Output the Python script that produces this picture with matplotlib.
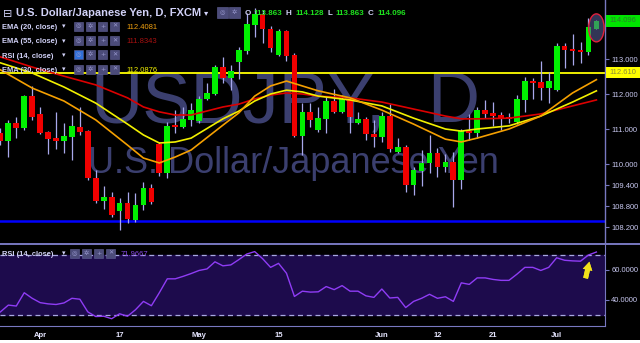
import matplotlib
matplotlib.use('Agg')
import matplotlib.pyplot as plt
from matplotlib.patches import Rectangle, Ellipse
from matplotlib.lines import Line2D

# ---------------- data ----------------
opens = [110.89, 110.66, 111.17, 111.03, 111.94, 111.43, 110.91, 110.74, 110.66, 110.77,
         111.06, 110.94, 109.60, 108.94, 109.06, 108.66, 108.89, 108.40, 108.83, 109.31,
         110.57, 109.74, 111.09, 111.06, 111.26, 111.23, 111.86, 112.00, 112.77, 112.46,
         112.91, 113.23, 113.97, 114.29, 113.86, 113.11, 113.80, 113.11, 110.80, 111.49,
         110.97, 111.29, 111.80, 111.49, 111.86, 111.17, 111.29, 110.86, 110.77, 111.37,
         110.34, 110.49, 109.40, 109.80, 110.03, 110.31, 109.91, 110.06, 109.54, 110.94,
         110.89, 111.54, 111.46, 111.40, 111.34, 111.20, 111.83, 112.37, 112.34, 112.17,
         112.11, 113.37, 113.29, 113.26, 113.20, 113.863]
highs = [111.03, 111.26, 111.34, 111.97, 112.23, 111.63, 110.94, 111.49, 111.17, 111.40,
         111.63, 110.96, 109.83, 109.37, 109.20, 109.03, 109.20, 109.17, 109.49, 109.43,
         110.63, 111.20, 111.54, 111.63, 111.74, 111.94, 112.31, 112.83, 113.06, 112.83,
         113.34, 114.31, 114.46, 114.40, 113.94, 113.86, 113.83, 113.17, 111.74, 111.74,
         111.63, 111.91, 112.14, 111.97, 111.89, 111.49, 111.34, 111.26, 111.49, 111.71,
         110.74, 110.54, 109.91, 110.40, 110.83, 110.46, 110.29, 110.34, 111.00, 111.43,
         111.63, 111.83, 111.77, 111.49, 111.46, 111.97, 112.49, 112.46, 112.94, 112.63,
         113.46, 113.46, 113.71, 113.49, 114.17, 114.128]
lows = [110.54, 110.20, 110.74, 110.97, 111.26, 110.86, 110.29, 110.43, 110.31, 110.11,
        110.83, 109.54, 108.89, 108.71, 108.49, 108.11, 108.31, 108.34, 108.69, 108.86,
        109.66, 109.60, 110.89, 111.03, 111.09, 111.17, 111.83, 111.97, 112.31, 112.11,
        112.43, 113.14, 113.63, 113.46, 113.20, 113.09, 112.94, 110.77, 110.26, 111.06,
        110.91, 110.89, 111.47, 111.47, 110.89, 111.15, 110.69, 110.49, 110.63, 110.34,
        110.31, 109.20, 109.11, 109.37, 109.74, 109.63, 109.77, 108.77, 109.29, 110.69,
        110.74, 111.31, 111.09, 110.97, 111.17, 111.14, 111.49, 111.86, 111.83, 111.74,
        112.09, 112.74, 112.83, 112.89, 113.11, 113.863]
closes = [110.66, 111.17, 111.03, 111.94, 111.34, 110.89, 110.71, 110.66, 110.80, 111.09,
          110.91, 109.60, 108.94, 109.06, 108.54, 108.89, 108.43, 108.83, 109.31, 108.91,
          109.74, 111.09, 111.06, 111.29, 111.54, 111.86, 112.03, 112.77, 112.46, 112.66,
          113.26, 114.00, 114.29, 113.86, 113.31, 113.80, 113.09, 110.80, 111.49, 111.26,
          111.31, 111.80, 111.49, 111.86, 111.34, 111.29, 110.86, 110.77, 111.37, 110.43,
          110.49, 109.40, 109.83, 110.03, 110.31, 109.91, 110.06, 109.54, 110.94, 110.89,
          111.54, 111.43, 111.37, 111.31, 111.29, 111.86, 112.37, 112.31, 112.17, 112.37,
          113.37, 113.26, 113.23, 113.20, 113.91, 114.096]

ema_idx = [0, 4, 8, 12, 16, 18, 20, 22, 24, 28, 30, 32, 34, 36, 38, 40, 44, 48, 52,
           56, 58, 60, 64, 68, 72, 75]
ema20 = [112.69, 112.17, 111.80, 111.26, 110.54, 110.17, 110.03, 110.20, 110.40, 111.11,
         111.46, 111.94, 112.23, 112.37, 112.23, 112.09, 111.89, 111.54, 111.14, 110.71,
         110.63, 110.74, 111.00, 111.37, 112.03, 112.41]
ema30 = [112.89, 112.60, 112.20, 111.74, 111.14, 110.83, 110.60, 110.63, 110.74, 111.29,
         111.51, 111.80, 112.00, 112.11, 112.06, 111.94, 111.83, 111.66, 111.31, 111.00,
         110.94, 111.00, 111.09, 111.37, 111.77, 112.09]
ema55 = [113.06, 112.77, 112.51, 112.26, 111.89, 111.63, 111.49, 111.40, 111.40, 111.63,
         111.71, 111.86, 111.97, 112.03, 112.00, 111.94, 111.89, 111.77, 111.57, 111.37,
         111.29, 111.29, 111.31, 111.43, 111.66, 111.83]

rsi = [32.06, 36.60, 35.98, 44.85, 41.13, 38.25, 37.42, 37.01, 38.04, 41.13,
       40.52, 32.06, 28.97, 29.18, 27.53, 30.82, 29.18, 33.51, 39.07, 36.19,
       44.85, 54.12, 54.12, 55.77, 57.63, 59.69, 60.72, 65.46, 62.78, 63.40,
       66.91, 70.62, 72.27, 67.53, 61.75, 64.43, 57.84, 42.37, 45.88, 45.26,
       45.46, 48.97, 46.91, 49.59, 45.88, 45.88, 42.78, 41.75, 47.32, 41.34,
       41.75, 34.95, 39.07, 41.13, 43.81, 41.13, 42.16, 39.07, 51.44, 50.41,
       54.74, 54.74, 53.71, 53.09, 53.09, 57.22, 61.75, 61.75, 59.69, 61.75,
       68.14, 66.49, 66.08, 65.88, 70.00, 71.97]

date_idx = [5, 15, 25, 35, 48, 55, 62, 70]
date_labels = ['Apr', '17', 'May', '15', 'Jun', '12', '21', 'Jul']
price_ticks = [113.0, 112.0, 111.0, 110.0, 109.4, 108.8, 108.2]
rsi_ticks = [60, 40]
resistance = 112.61
support = 108.38
last_price = 114.096

# ---------------- figure ----------------
W, H = 640, 343
fig = plt.figure(figsize=(6.4, 3.43), dpi=100, facecolor='black')

def fx(x):
    return x / W

def fy(y):
    return 1 - y / H

LAB = '#d2d2f8'
AXC = '#7878c0'
FONT = ['Liberation Sans', 'DejaVu Sans']

step = 596 / 75.0
x0 = -0.05
x1 = x0 + 605 / step

ax = fig.add_axes([0, fy(243), 605 / W, 243 / H])
ax.set_facecolor('black')
ax.set_xlim(x0, x1)
ax.set_ylim(114.686 - 243 / 35.0, 114.686)
for s in ['top', 'left', 'bottom']:
    ax.spines[s].set_visible(False)
ax.spines['right'].set_color(AXC)
ax.spines['right'].set_linewidth(1.0)
ax.set_xticks([])
ax.yaxis.tick_right()
ax.set_yticks(price_ticks)
ax.set_yticklabels(['%.3f' % t for t in price_ticks], family=FONT)
ax.tick_params(axis='y', colors=AXC, labelcolor='#c8c8f0', labelsize=5.5,
               length=3, width=0.8, pad=1.5)

# watermarks
WM = '#3b3f6f'
ax.text(fx(90), fy(122), 'USDJPY,', transform=fig.transFigure, fontsize=52,
        color=WM, family=FONT, va='baseline', ha='left', zorder=0)
ax.text(fx(427), fy(122), 'D', transform=fig.transFigure, fontsize=52,
        color=WM, family=FONT, va='baseline', ha='left', zorder=0)
ax.text(fx(88), fy(173), 'U.S. Dollar/Japanese Yen', transform=fig.transFigure,
        fontsize=26, color=WM, family=FONT, va='baseline', ha='left', zorder=0)

# horizontal lines
ax.axhline(resistance, color='#ffff00', lw=1.3, zorder=2)
ax.axhline(support, color='#0000ff', lw=1.8, zorder=2)

# candles
idx = list(range(len(opens)))
GREEN, RED, WICK = '#00f000', '#f00000', '#a8a8ec'
ax.vlines(idx, lows, highs, color=WICK, lw=0.9, zorder=3)
for i in idx:
    o, c = opens[i], closes[i]
    col = GREEN if c >= o else RED
    bot = min(o, c)
    h = max(abs(c - o), 0.05)
    ax.bar(i, h, bottom=bot, width=0.72, color=col, edgecolor='none', zorder=4)

# EMA lines
ax.plot(ema_idx, ema55, color='#dc0000', lw=1.2, zorder=5)
ax.plot(ema_idx, ema30, color='#f2f000', lw=1.2, zorder=5)
ax.plot(ema_idx, ema20, color='#f5a000', lw=1.2, zorder=5)

# highlight ellipse around last candle
ax.add_patch(Ellipse((75, 113.89), 1.95, 0.8, facecolor=(0.36, 0.38, 0.62, 0.55),
                     edgecolor='#e0203c', lw=1.0, zorder=6))

# ---------------- RSI panel ----------------
axr = fig.add_axes([0, fy(326), 605 / W, (326 - 244) / H])
axr.set_facecolor('black')
axr.set_xlim(x0, x1)
axr.set_ylim(30 - 11 / 1.5, 70 + 11 / 1.5)
axr.axhspan(30, 70, color='#1d0b4c', zorder=0)
axr.axhline(70, color='#a8a8e0', lw=0.9, ls=(0, (4, 3)), zorder=1)
axr.axhline(30, color='#a8a8e0', lw=0.9, ls=(0, (4, 3)), zorder=1)
axr.plot(idx, rsi, color='#8f3cf5', lw=1.0, zorder=3)
for s in ['top', 'left']:
    axr.spines[s].set_visible(False)
axr.spines['right'].set_color(AXC)
axr.spines['bottom'].set_color(AXC)
axr.yaxis.tick_right()
axr.set_yticks(rsi_ticks)
axr.set_yticklabels(['%.4f' % t for t in rsi_ticks], family=FONT)
axr.tick_params(axis='y', colors=AXC, labelcolor='#c8c8f0', labelsize=5.5,
                length=3, width=0.8, pad=1.5)
axr.set_xticks(date_idx)
axr.set_xticklabels(date_labels, family=FONT, weight='bold')
axr.tick_params(axis='x', length=0, labelcolor='#e6e6ff', labelsize=5.5, pad=4)

# yellow arrow in RSI panel
fig.add_artist(plt.annotate('', xy=(fx(590), fy(259)), xytext=(fx(585), fy(281)),
                            xycoords='figure fraction', textcoords='figure fraction',
                            arrowprops=dict(arrowstyle='simple,head_width=0.7,head_length=0.6,tail_width=0.35',
                                            color='#f2e21a', lw=0)))

# separators
fig.add_artist(Line2D([0, 1], [fy(243.5), fy(243.5)], color=AXC, lw=1.4))
fig.add_artist(Rectangle((0, 0), 1, fy(340), transform=fig.transFigure,
                         facecolor='white', edgecolor='none'))

# ---------------- price labels on the axis ----------------
fig.add_artist(Rectangle((fx(605.5), fy(27)), fx(35), 12 / H, transform=fig.transFigure,
                         facecolor='#00e400', edgecolor='none', zorder=1))
fig.text(fx(609), fy(21), '%.3f' % last_price, fontsize=5.5, family=FONT,
         color='#2e7a2e', va='center', ha='left', zorder=5)
fig.add_artist(Rectangle((fx(605.5), fy(78)), fx(35), 10.5 / H, transform=fig.transFigure,
                         facecolor='#ffff00', edgecolor='none', zorder=1))
fig.text(fx(609), fy(72.8), '%.3f' % resistance, fontsize=5.5, family=FONT,
         color='#8a8a3a', va='center', ha='left', zorder=5)

# ---------------- legend texts ----------------
def ftext(x, y, s, **kw):
    kw.setdefault('family', FONT)
    fig.text(fx(x), fy(y), s, **kw)

def icons(xs, yc, size, first_col='#4c4c7a'):
    glyphs = ['\u25ce', '\u2732', '+', '\u2715']
    for k, xx in enumerate(xs):
        col = first_col if k == 0 else '#4c4c7a'
        fig.add_artist(Rectangle((fx(xx), fy(yc + size / 2)), size / W, size / H,
                                 transform=fig.transFigure, facecolor=col,
                                 edgecolor='#62629a', lw=0.4))
        ftext(xx + size / 2, yc, glyphs[k % 4], fontsize=4.5, color='#9a9ad0',
              ha='center', va='center', family=['DejaVu Sans'])

ftext(3, 17, '\u229f', fontsize=8, color=LAB, va='baseline', family=['DejaVu Sans'])
ftext(16, 16.5, 'U.S. Dollar/Japanese Yen, D, FXCM', fontsize=8, weight='bold',
      color=LAB, va='baseline')
ftext(204, 15.5, '\u25be', fontsize=6, color=LAB, va='baseline', family=['DejaVu Sans'])
icons([217, 229], 12.5, 10.5)

ohlc_col = '#1ee01e'
ftext(245, 15.3, 'O', fontsize=5.8, weight='bold', color=LAB, va='baseline')
ftext(253.5, 15.3, '113.863', fontsize=5.8, weight='bold', color=ohlc_col, va='baseline')
ftext(286, 15.3, 'H', fontsize=5.8, weight='bold', color=LAB, va='baseline')
ftext(295, 15.3, '114.128', fontsize=5.8, weight='bold', color=ohlc_col, va='baseline')
ftext(327.5, 15.3, 'L', fontsize=5.8, weight='bold', color=LAB, va='baseline')
ftext(335, 15.3, '113.863', fontsize=5.8, weight='bold', color=ohlc_col, va='baseline')
ftext(368, 15.3, 'C', fontsize=5.8, weight='bold', color=LAB, va='baseline')
ftext(377, 15.3, '114.096', fontsize=5.8, weight='bold', color=ohlc_col, va='baseline')

rows = [
    (28.8, 'EMA (20, close)', '112.4081', '#f0a010', '#4c4c7a'),
    (43.3, 'EMA (55, close)', '111.8343', '#a81010', '#4c4c7a'),
    (57.6, 'RSI (14, close)', '', '', '#2f6fd8'),
    (72.0, 'EMA (30, close)', '112.0876', '#f0f000', '#4c4c7a'),
]
for yb, name, val, vcol, fcol in rows:
    ftext(2, yb, name, fontsize=5.4, weight='bold', color=LAB, va='baseline')
    ftext(61.5, yb - 0.5, '\u25be', fontsize=5, color=LAB, va='baseline',
          family=['DejaVu Sans'])
    icons([74, 86, 98, 110], yb - 2.8, 9, first_col=fcol)
    if val:
        ftext(126, yb, val, fontsize=5.5, color=vcol, va='baseline')

# RSI legend
ftext(2, 256, 'RSI (14, close)', fontsize=5.4, weight='bold', color=LAB, va='baseline')
ftext(61.5, 255.5, '\u25be', fontsize=5, color=LAB, va='baseline', family=['DejaVu Sans'])
icons([70, 82, 94, 106], 253.2, 9)
ftext(121, 256, '71.9667', fontsize=5.5, color='#8848e8', va='baseline')

fig.savefig('out.png', dpi=100, facecolor='black')
